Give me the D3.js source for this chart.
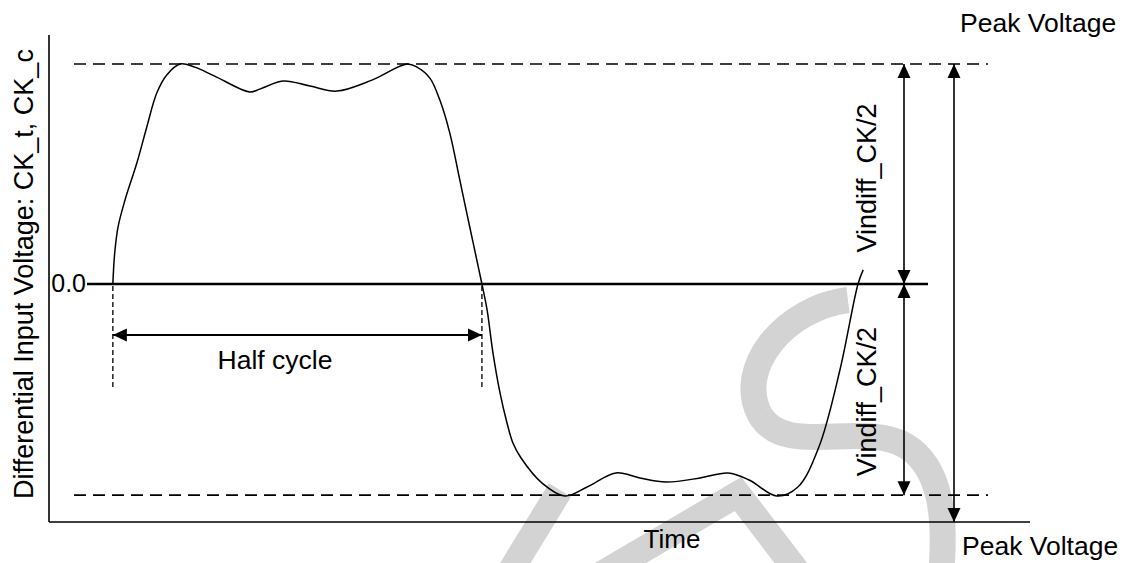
<!DOCTYPE html>
<html>
<head>
<meta charset="utf-8">
<script src="https://cdn.jsdelivr.net/npm/d3@7"></script>
<style>
  html, body { margin: 0; padding: 0; background: #fff; }
  svg { display: block; }
  text { font-family: "Liberation Sans", Arial, sans-serif; fill: #000; }
</style>
</head>
<body>
<svg id="chart" width="1127" height="563"></svg>
<script>
// ---- data (time in half-cycles, voltage normalised to positive peak) ----
const timeVals = [0, 0.005, 0.014, 0.033, 0.065, 0.092, 0.119, 0.146, 0.182, 0.222, 0.276, 0.371, 0.398, 0.461, 0.534, 0.607, 0.702, 0.797, 0.824, 0.859, 0.886, 0.913, 0.940, 0.967, 1.000,
  1.014, 1.030, 1.049, 1.068, 1.084, 1.106, 1.163, 1.225, 1.285, 1.363, 1.428, 1.499, 1.591, 1.667, 1.724, 1.799, 1.856, 1.913, 1.970, 2.019, 2.033];
const voltVals = [0, 0.141, 0.259, 0.382, 0.550, 0.714, 0.868, 0.950, 1.000, 0.986, 0.945, 0.873, 0.886, 0.923, 0.900, 0.877, 0.927, 1.000, 0.986, 0.936, 0.836, 0.686, 0.473, 0.259, 0,
  -0.118, -0.314, -0.495, -0.632, -0.723, -0.791, -0.905, -0.964, -0.923, -0.859, -0.882, -0.900, -0.882, -0.859, -0.891, -0.964, -0.923, -0.741, -0.391, 0, 0.064];
const peakLevels = [1.0, -0.96];     // positive / negative peak voltage
const halfCycle = [0, 1];            // start / end of half cycle (time)
const yTickValues = [0];
const yTickLabels = ["0.0"];
const labels = {
  yAxis: "Differential Input Voltage: CK_t, CK_c",
  xAxis: "Time",
  peak: "Peak Voltage",
  vindiff: "Vindiff_CK/2",
  half: "Half cycle"
};

const svg = d3.select("#chart");
const x = d3.scaleLinear().domain([-0.173, 2.485]).range([49, 1030]);
const y = d3.scaleLinear().domain([-1.082, 1.132]).range([522, 35]);
const [xL, xR] = x.range();
const [yB, yT] = y.range();

// arrow marker
const defs = svg.append("defs");
defs.append("marker")
  .attr("id", "arr").attr("viewBox", "0 -7 14 14")
  .attr("refX", 14).attr("refY", 0)
  .attr("markerWidth", 14).attr("markerHeight", 14)
  .attr("markerUnits", "userSpaceOnUse")
  .attr("orient", "auto-start-reverse")
  .append("path").attr("d", "M0,-6.5L14,0L0,6.5Z").attr("fill", "#000");

// watermark (light grey)
const wm = svg.append("g").attr("fill", "none").attr("stroke", "#d3d3d3").attr("stroke-width", 26);
wm.append("path").attr("d", "M848,300 C785,308 735,368 760,415 C785,458 862,420 906,446 C942,468 946,520 941,575");
wm.append("path").attr("d", "M600,575 L738,494 L800,575");
wm.append("path").attr("d", "M508,575 L560,490");

// axes lines
const g = svg.append("g").attr("stroke", "#000").attr("fill", "none");
g.append("line").attr("x1", xL).attr("x2", xL).attr("y1", yT).attr("y2", yB).attr("stroke-width", 1.6);
g.append("line").attr("x1", xL).attr("x2", xR).attr("y1", yB).attr("y2", yB).attr("stroke-width", 1.6);

// zero line
g.append("line").attr("x1", 87).attr("x2", 928).attr("y1", y(0)).attr("y2", y(0)).attr("stroke-width", 2.6);

// peak dashed lines
peakLevels.forEach(v => {
  g.append("line").attr("x1", 74).attr("x2", 988).attr("y1", y(v)).attr("y2", y(v))
    .attr("stroke-width", 1.6).attr("stroke-dasharray", "12,7");
});

// half-cycle markers
halfCycle.forEach(t => {
  g.append("line").attr("x1", x(t)).attr("x2", x(t)).attr("y1", y(0) + 2).attr("y2", 387)
    .attr("stroke-width", 1.3).attr("stroke-dasharray", "5,3");
});
g.append("line").attr("x1", x(halfCycle[0])).attr("x2", x(halfCycle[1])).attr("y1", 335).attr("y2", 335)
  .attr("stroke-width", 2).attr("marker-start", "url(#arr)").attr("marker-end", "url(#arr)");

// vindiff arrows
g.append("line").attr("x1", 904).attr("x2", 904).attr("y1", y(peakLevels[0])).attr("y2", y(0))
  .attr("stroke-width", 1.6).attr("marker-start", "url(#arr)").attr("marker-end", "url(#arr)");
g.append("line").attr("x1", 904).attr("x2", 904).attr("y1", y(0)).attr("y2", y(peakLevels[1]))
  .attr("stroke-width", 1.6).attr("marker-start", "url(#arr)").attr("marker-end", "url(#arr)");
// peak-to-peak arrow
g.append("line").attr("x1", 954).attr("x2", 954).attr("y1", y(peakLevels[0])).attr("y2", yB)
  .attr("stroke-width", 1.6).attr("marker-start", "url(#arr)").attr("marker-end", "url(#arr)");

// waveform
const data = timeVals.map((t, i) => [t, voltVals[i]]);
const line = d3.line().x(d => x(d[0])).y(d => y(d[1])).curve(d3.curveCatmullRom.alpha(0.5));
svg.append("path").datum(data).attr("d", line).attr("fill", "none").attr("stroke", "#000").attr("stroke-width", 1.5);

// texts
const T = svg.append("g");
yTickValues.forEach((v, i) => {
  T.append("text").attr("x", 86).attr("y", y(v) + 8).attr("text-anchor", "end")
    .attr("font-size", 25).text(yTickLabels[i]);
});
T.append("text").attr("transform", `translate(33,274) rotate(-90)`).attr("text-anchor", "middle")
  .attr("font-size", 27).text(labels.yAxis);
T.append("text").attr("x", 672).attr("y", 548).attr("text-anchor", "middle").attr("font-size", 26).text(labels.xAxis);
T.append("text").attr("x", 960).attr("y", 32).attr("font-size", 26.5).text(labels.peak);
T.append("text").attr("x", 962).attr("y", 555).attr("font-size", 26.5).text(labels.peak);
T.append("text").attr("x", 275).attr("y", 369).attr("text-anchor", "middle").attr("font-size", 26.5).text(labels.half);
T.append("text").attr("transform", `translate(876,${(y(peakLevels[0]) + y(0)) / 2 + 4}) rotate(-90)`)
  .attr("text-anchor", "middle").attr("font-size", 27).text(labels.vindiff);
T.append("text").attr("transform", `translate(876,${(y(0) + y(peakLevels[1])) / 2 + 12}) rotate(-90)`)
  .attr("text-anchor", "middle").attr("font-size", 27).text(labels.vindiff);
</script>
</body>
</html>
